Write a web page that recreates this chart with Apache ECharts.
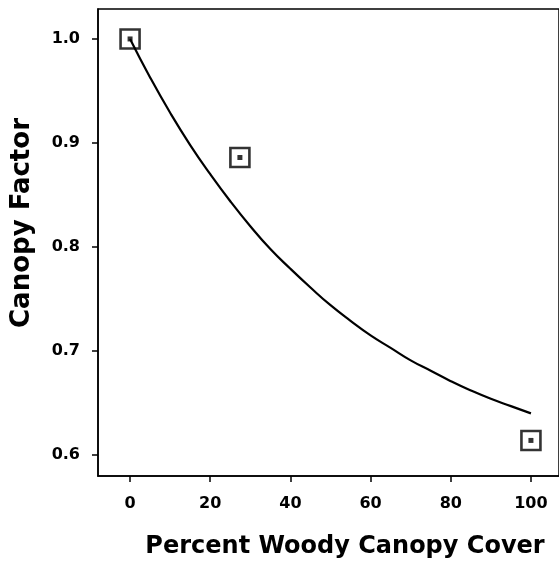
<!DOCTYPE html>
<html>
<head>
<meta charset="utf-8">
<script src="https://cdn.jsdelivr.net/npm/echarts@6/dist/echarts.min.js"></script>
<style>
  html, body { margin: 0; padding: 0; background: #fff; }
  #chart { width: 559px; height: 562px; }
</style>
</head>
<body>
<div id="chart"></div>
<script>
// Observed canopy factor at three levels of woody canopy cover
const obsCover = [0, 27.4, 100];
const obsFactor = [1.0, 0.886, 0.614];

// Fitted decline curve
const fitCover = [0, 5, 10, 15, 20, 25, 30, 35, 40, 45, 50, 55, 60, 65, 70, 75, 80, 85, 90, 95, 100];
const fitFactor = [1.000, 0.963, 0.929, 0.898, 0.870, 0.844, 0.820, 0.798, 0.779, 0.761, 0.744,
                   0.729, 0.715, 0.703, 0.691, 0.681, 0.671, 0.662, 0.654, 0.647, 0.640];

// Axis tick labels
const xTicks = [0, 20, 40, 60, 80, 100];
const yTicks = [0.6, 0.7, 0.8, 0.9, 1.0];

const xTitle = 'Percent Woody Canopy Cover';
const yTitle = 'Canopy Factor';

const FONT = '"DejaVu Sans", sans-serif';

const chart = echarts.init(document.getElementById('chart'), null, { renderer: 'canvas' });

const obsData = obsCover.map((x, i) => [x, obsFactor[i]]);
const fitData = fitCover.map((x, i) => [x, fitFactor[i]]);

const tickLabel = { color: '#000', fontFamily: FONT, fontWeight: 'bold', fontSize: 16 };

chart.setOption({
  animation: false,
  backgroundColor: '#fff',
  grid: {
    left: 98, top: 9, right: -2, bottom: 86,
    show: true, borderColor: '#000', borderWidth: 1.5,
    containLabel: false
  },
  xAxis: {
    type: 'value', min: -8, max: 107,
    axisLine: { show: true, onZero: false, lineStyle: { color: '#000', width: 1.5 } },
    axisTick: { show: true, length: 6, inside: false, customValues: xTicks, lineStyle: { color: '#000', width: 1.5 } },
    axisLabel: Object.assign({ customValues: xTicks, margin: 20 }, tickLabel),
    splitLine: { show: false }
  },
  yAxis: {
    type: 'value', min: 0.5798, max: 1.0288,
    axisLine: { show: true, onZero: false, lineStyle: { color: '#000', width: 1.5 } },
    axisTick: { show: true, length: 6, inside: false, customValues: yTicks, lineStyle: { color: '#000', width: 1.5 } },
    axisLabel: Object.assign({ customValues: yTicks, margin: 18, formatter: v => v.toFixed(1) }, tickLabel),
    splitLine: { show: false }
  },
  graphic: [
    {
      type: 'text', x: 345, y: 547,
      style: { text: xTitle, fontFamily: FONT, fontWeight: 'bold', fontSize: 24, fill: '#000', align: 'center', verticalAlign: 'middle' }
    },
    {
      type: 'text', x: 22, y: 223, rotation: Math.PI / 2,
      style: { text: yTitle, fontFamily: FONT, fontWeight: 'bold', fontSize: 26, fill: '#000', align: 'center', verticalAlign: 'middle' }
    }
  ],
  series: [
    {
      type: 'line', data: fitData, showSymbol: false, smooth: true,
      lineStyle: { color: '#000', width: 2.2 }, z: 2
    },
    {
      type: 'scatter', data: obsData, symbol: 'rect', symbolSize: 19,
      itemStyle: { color: 'rgba(255,255,255,0)', borderColor: '#000', borderWidth: 2.6 }, z: 3
    },
    {
      type: 'scatter', data: obsData, symbol: 'rect', symbolSize: 5,
      itemStyle: { color: '#000' }, z: 4
    }
  ]
});
</script>
</body>
</html>
